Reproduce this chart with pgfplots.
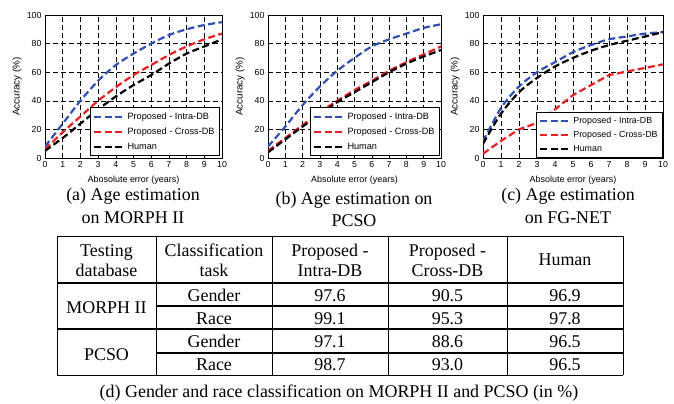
\documentclass[border=0pt]{standalone}
\usepackage{fontspec}
\setmainfont{Liberation Serif}
\newfontfamily\arial{Liberation Sans}
\usepackage{pgfplots}
\pgfplotsset{compat=1.18}
\definecolor{cblue}{RGB}{50,80,180}
\definecolor{cred}{RGB}{235,30,35}
\pgfplotsset{
  agestyle/.style={
    scale only axis, height=143bp,
    xmin=0,xmax=10,ymin=0,ymax=100,
    xtick={0,1,...,10}, ytick={0,20,...,100},
    grid=major,
    major grid style={black, line width=0.6bp, dash pattern=on 5bp off 3bp},
    axis line style={black, line width=0.8bp},
    tick style={draw=none},
    ticklabel style={font=\arial\fontsize{8.8}{10}\selectfont},
    /pgf/number format/assume math mode=true,
    xlabel style={at={([yshift=-22bp]axis description cs:0.5,0)}, anchor=center, font=\arial\fontsize{9}{10}\selectfont},
    ylabel style={at={([xshift=-28bp]axis description cs:0,0.5)}, anchor=center, rotate=0, font=\arial\fontsize{9.8}{10}\selectfont},
    ylabel={Accuracy (\%)},
    legend style={at={(axis description cs:1,0)}, anchor=south east,
      draw=black, line width=0.8bp, fill=white,
      font=\arial\fontsize{9.2}{10}\selectfont,
      inner xsep=3bp, inner ysep=3bp, row sep=3bp,
      nodes={inner sep=2bp}, cells={anchor=west}},
    legend image code/.code={\draw[##1] (0bp,0bp) -- (30bp,0bp);},
  },
  ser/.style={line width=2.2bp, dash pattern=on 7bp off 3.5bp},
}
\begin{document}
\begin{tikzpicture}
\begin{scope}[x=1bp,y=-1bp]
\path[use as bounding box, fill=white] (0,0) rectangle (674,403);
\end{scope}
% (a)
\begin{axis}[agestyle, width=177bp, at={(45bp,-158bp)}, anchor=south west,
  xlabel={Abosolute error (years)},
  legend style={xshift=-2bp, yshift=2bp}]
\addplot[ser, cblue, smooth] coordinates {(0,8)(1,24)(2,40)(3,54)(4,65)(5,73)(6,80)(7,86)(8,90)(9,93)(10,95)};
\addplot[ser, cred, smooth] coordinates {(0,6)(1,18)(2,29)(3,40)(4,49.5)(5,58)(6,65)(7,72)(8,78)(9,83)(10,87)};
\addplot[ser, black, smooth] coordinates {(0,5)(1,14)(2,24)(3,34)(4,43)(5,51)(6,58)(7,66)(8,73)(9,78)(10,83)};
\legend{Proposed - Intra-DB, Proposed - Cross-DB, Human}
\end{axis}
% (b)
\begin{axis}[agestyle, width=173bp, at={(268bp,-158bp)}, anchor=south west,
  xlabel={Absolute error (years)},
  legend style={xshift=-1bp, yshift=2bp}]
\addplot[ser, cblue, smooth] coordinates {(0,8)(1,22)(2,37)(3,50)(4,61)(5,70)(6,78)(7,83)(8,87)(9,91)(10,93.5)};
\addplot[ser, cred, smooth] coordinates {(0,5)(1,14)(2,23)(3,32)(4,40)(5,47.5)(6,54)(7,61)(8,67)(9,72.5)(10,78)};
\addplot[ser, black, smooth] coordinates {(0,4)(1,13)(2,22)(3,30.5)(4,39)(5,46)(6,53)(7,60)(8,66)(9,71)(10,75.5)};
\legend{Proposed - Intra-DB, Proposed - Cross-DB, Human}
\end{axis}
% (c)
\begin{axis}[agestyle, width=180bp, at={(483bp,-158bp)}, anchor=south west,
  xlabel={Absolute error (years)},
  legend style={font=\arial\fontsize{8.9}{10}\selectfont, row sep=2bp}]
\addplot[ser, cblue, smooth] coordinates {(0,11.5)(1,35)(2,50)(3,60)(4,67)(5,74)(6,79)(7,83)(8,85)(9,87)(10,88)};
\addplot[ser, cred] coordinates {(0,3)(1,12)(2,20)(3,24.5)(4,34)(5,44)(6,51)(7,58)(8,60.5)(9,63)(10,65.5)};
\addplot[ser, black, smooth] coordinates {(0,10)(1,31)(2,46)(3,56)(4,64)(5,70)(6,75)(7,79)(8,82)(9,85)(10,88)};
\legend{Proposed - Intra-DB, Proposed - Cross-DB, Human}
\end{axis}
% captions and table
\begin{scope}[x=1bp,y=-1bp, every node/.style={font=\fontsize{18}{20}\selectfont, inner sep=0pt, anchor=base}]
\node at (133,200) {(a) Age estimation};
\node at (133,223) {on MORPH II};
\node at (354,204) {(b) Age estimation on};
\node at (354,226) {PCSO};
\node at (568,200) {(c) Age estimation};
\node at (568,223) {on FG-NET};
\node at (339,397) {(d) Gender and race classification on MORPH II and PCSO (in \%)};
% table lines
\draw[line width=1bp] (57,236) -- (623,236);
\draw[line width=1.2bp] (57,283) -- (623,283);
\draw[line width=1.6bp] (156,306) -- (623,306);
\draw[line width=1.8bp] (57,329) -- (623,329);
\draw[line width=1.6bp] (156,353) -- (623,353);
\draw[line width=1bp] (57,375) -- (623,375);
\foreach \cx in {57,156,272,388,507,623} {\draw[line width=1bp] (\cx,236) -- (\cx,375);}
% header
\node at (106.5,256) {Testing};
\node at (106.5,276) {database};
\node at (214,256) {Classification};
\node at (214,276) {task};
\node at (330,256) {Proposed -};
\node at (330,276) {Intra-DB};
\node at (447.5,256) {Proposed -};
\node at (447.5,276) {Cross-DB};
\node at (565,265) {Human};
% body
\node at (106.5,313) {MORPH II};
\node at (106.5,360) {PCSO};
\node at (214,301) {Gender};
\node at (214,324) {Race};
\node at (214,347) {Gender};
\node at (214,370) {Race};
\node at (330,301) {97.6};
\node at (330,324) {99.1};
\node at (330,347) {97.1};
\node at (330,370) {98.7};
\node at (447.5,301) {90.5};
\node at (447.5,324) {95.3};
\node at (447.5,347) {88.6};
\node at (447.5,370) {93.0};
\node at (565,301) {96.9};
\node at (565,324) {97.8};
\node at (565,347) {96.5};
\node at (565,370) {96.5};
\end{scope}
\end{tikzpicture}
\end{document}
